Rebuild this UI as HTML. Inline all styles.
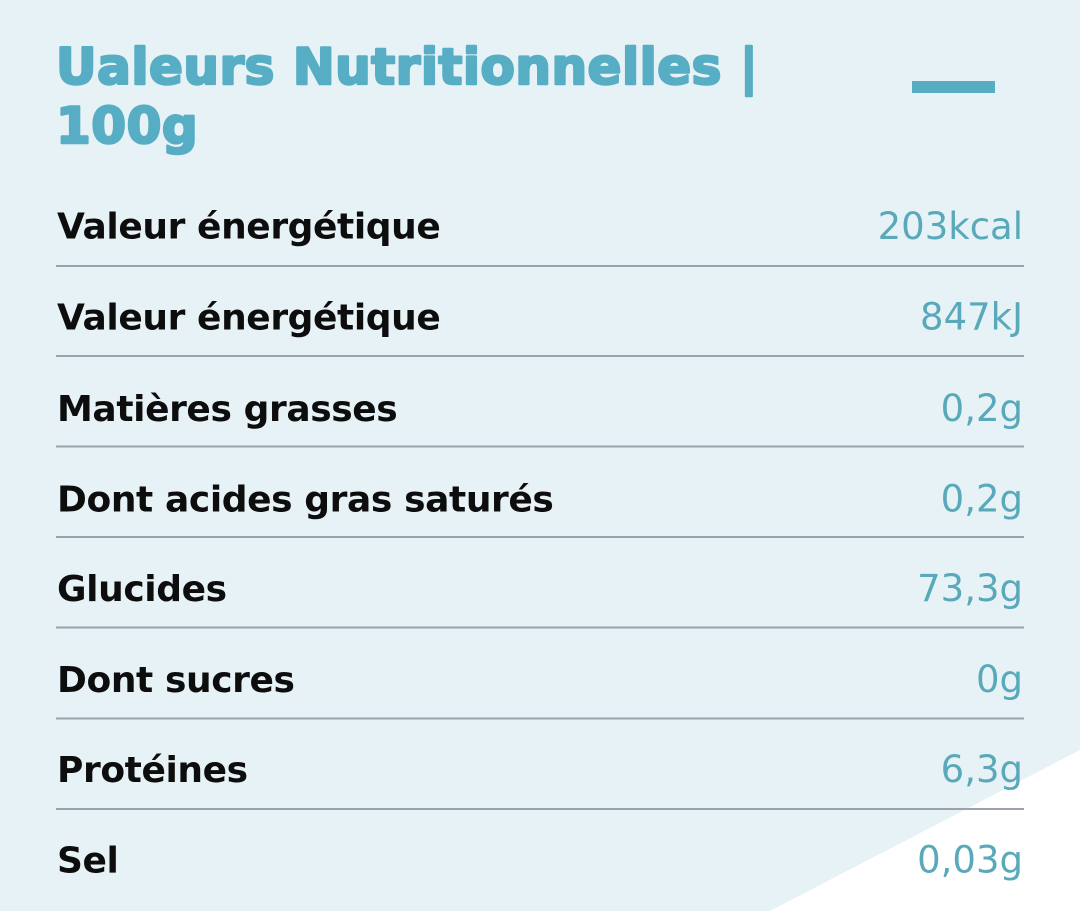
<!DOCTYPE html>
<html>
<head>
<meta charset="utf-8">
<style>
  html, body { margin: 0; padding: 0; }
  body { width: 1080px; height: 911px; overflow: hidden; background: #e7f2f6; }
  svg { display: block; }
  .lbl { font-family: "DejaVu Sans", "Liberation Sans", sans-serif; font-weight: bold; font-size: 36px; letter-spacing: -0.4px; fill: #0d0d0d; }
  .val { font-family: "DejaVu Sans", "Liberation Sans", sans-serif; font-weight: normal; font-size: 37px; fill: #5aa9ba; }
  .ttl { font-family: "DejaVu Sans", "Liberation Sans", sans-serif; font-weight: bold; font-size: 50px; letter-spacing: 0.5px; fill: #57aec4; stroke: #57aec4; stroke-width: 2.5; stroke-linejoin: round; }
</style>
</head>
<body>
<svg width="1080" height="911" viewBox="0 0 1080 911" xmlns="http://www.w3.org/2000/svg">
  <rect x="0" y="0" width="1080" height="911" fill="#e7f2f6"/>
  <polygon points="770,911 1080,750 1080,911" fill="#ffffff"/>

  <text class="ttl" x="56" y="84">Ualeurs Nutritionnelles |</text>
  <text class="ttl" x="56" y="143">100g</text>
  <rect x="912" y="81" width="83" height="12" fill="#57aec4"/>

  <g fill="#9ba1ad">
    <rect x="56" y="265" width="968" height="2"/>
    <rect x="56" y="355" width="968" height="2"/>
    <rect x="56" y="445.5" width="968" height="2"/>
    <rect x="56" y="536" width="968" height="2"/>
    <rect x="56" y="626.5" width="968" height="2"/>
    <rect x="56" y="717.5" width="968" height="2"/>
    <rect x="56" y="808" width="968" height="2"/>
  </g>

  <text class="lbl" x="57" y="238.5">Valeur énergétique</text>
  <text class="lbl" x="57" y="329.5">Valeur énergétique</text>
  <text class="lbl" x="57" y="421">Matières grasses</text>
  <text class="lbl" x="57" y="511.5">Dont acides gras saturés</text>
  <text class="lbl" x="57" y="601">Glucides</text>
  <text class="lbl" x="57" y="692">Dont sucres</text>
  <text class="lbl" x="57" y="782">Protéines</text>
  <text class="lbl" x="57" y="872.5">Sel</text>

  <text class="val" x="1023" y="239" text-anchor="end">203kcal</text>
  <text class="val" x="1023" y="329.5" text-anchor="end">847kJ</text>
  <text class="val" x="1023" y="421" text-anchor="end">0,2g</text>
  <text class="val" x="1023" y="511.5" text-anchor="end">0,2g</text>
  <text class="val" x="1023" y="601" text-anchor="end">73,3g</text>
  <text class="val" x="1023" y="692" text-anchor="end">0g</text>
  <text class="val" x="1023" y="782" text-anchor="end">6,3g</text>
  <text class="val" x="1023" y="872.5" text-anchor="end">0,03g</text>
</svg>
</body>
</html>
